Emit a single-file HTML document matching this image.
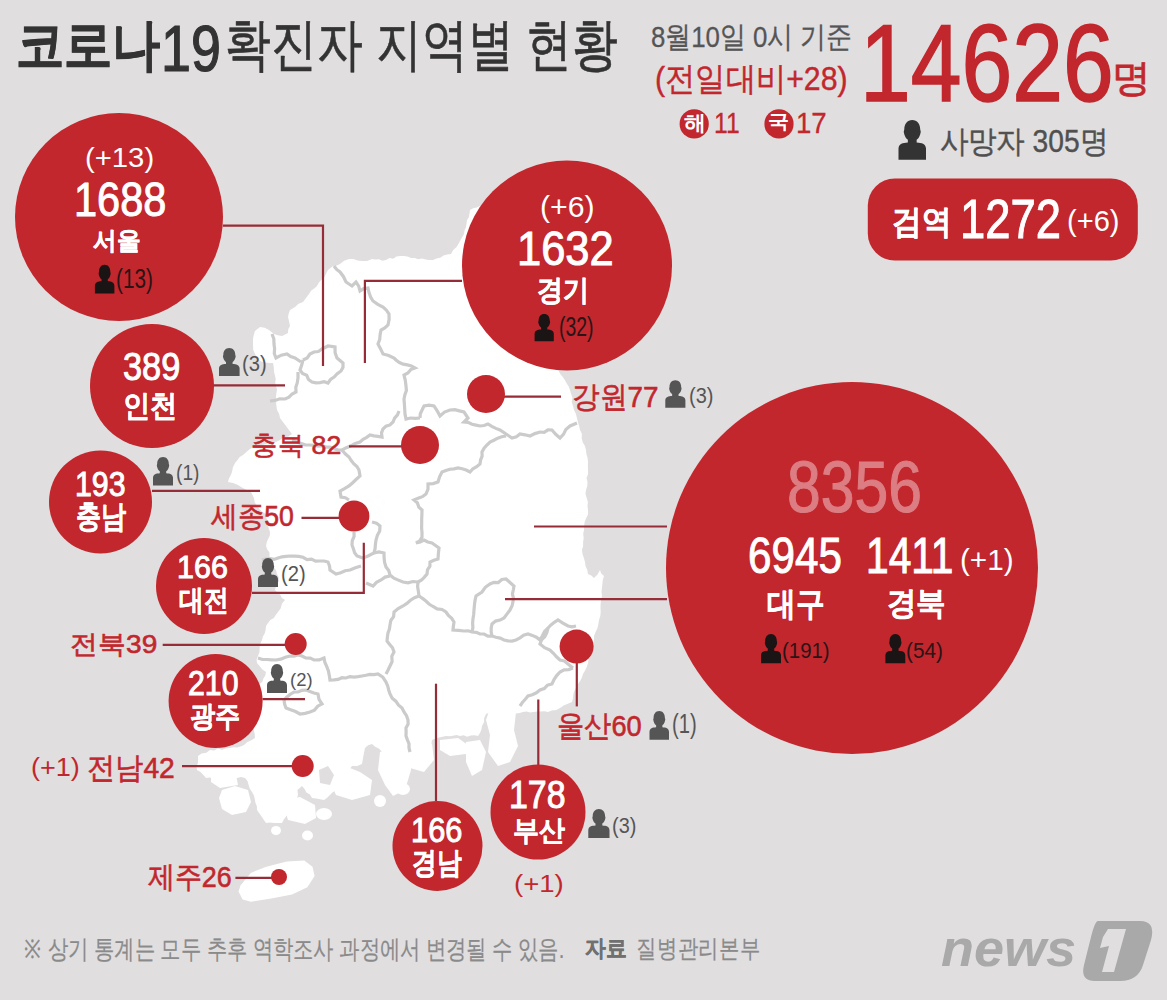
<!DOCTYPE html>
<html><head><meta charset="utf-8"><style>
html,body{margin:0;padding:0}
body{width:1167px;height:1000px;background:#e0dedf;position:relative;overflow:hidden;font-family:"Liberation Sans",sans-serif}
svg{position:absolute;left:0;top:0}
.t{position:absolute;white-space:nowrap;line-height:1;transform-origin:0 0}
.t i{display:inline-block;width:1em;font-style:normal;text-align:center}
</style></head><body>
<svg width="1167" height="1000" viewBox="0 0 1167 1000"><path d="M253,339 L253.7,334.9 L255.0,331.0 L260.0,327.0 L264.7,327.8 L269.0,330.0 L274.0,334.0 L277.9,335.3 L282.0,336.0 L288.0,333.0 L288.2,329.3 L290.0,326.0 L289.1,321.5 L288.0,317.0 L288.7,313.4 L290.0,310.0 L295.0,307.0 L298.5,303.8 L303.0,302.0 L306.0,298.0 L309.0,294.0 L311.0,290.7 L314.2,288.6 L317.0,286.0 L318.7,282.8 L321.1,280.1 L324.0,278.0 L325.9,273.9 L328.0,270.0 L333.0,266.0 L336.7,265.6 L340.0,264.0 L344.1,260.8 L349.0,259.0 L353.4,259.1 L357.6,260.6 L362.0,261.0 L367.2,260.9 L372.0,259.0 L375.5,259.4 L379.0,259.3 L382.4,260.7 L386.0,260.0 L389.3,258.1 L393.2,258.7 L396.4,256.6 L400.0,256.0 L403.8,256.0 L407.5,256.6 L411.0,258.0 L414.7,258.0 L418.3,259.3 L422.1,258.4 L425.7,259.5 L429.3,259.9 L433.0,260.0 L436.5,258.6 L440.2,257.7 L443.5,255.6 L447.1,254.4 L451.0,254.0 L453.2,250.0 L456.6,246.9 L459.0,243.0 L461.4,238.4 L464.0,234.0 L464.5,230.5 L465.9,227.2 L466.5,223.7 L467.0,220.2 L468.9,217.0 L469.5,213.5 L470.0,210.0 L473.1,208.2 L476.7,207.5 L480.0,206.0 L483.6,205.4 L486.8,203.8 L489.8,201.6 L493.7,201.6 L496.4,198.6 L499.9,197.8 L503.5,197.1 L506.4,194.7 L510.0,194.0 L513.0,191.8 L516.8,191.6 L520.0,190.0 L522.8,192.3 L526.0,193.8 L528.7,196.1 L532.3,197.0 L535.0,199.4 L538.1,201.1 L541.1,202.9 L544.3,204.5 L546.9,206.9 L549.8,208.9 L553.4,210.0 L556.2,212.1 L559.8,212.9 L562.2,215.8 L565.3,217.5 L568.0,219.9 L571.2,221.5 L574.8,222.4 L577.7,224.3 L580.4,226.7 L584.1,227.4 L586.7,229.9 L590.0,231.2 L593.1,233.0 L596.2,234.7 L598.5,237.7 L602.2,238.5 L605.1,240.5 L608.0,242.5 L610.5,245.2 L614.4,245.6 L617.0,248.1 L620.0,250.0 L619.0,253.5 L617.5,256.8 L616.8,260.3 L615.8,263.7 L616.1,267.5 L614.9,270.9 L614.2,274.4 L612.3,277.6 L611.3,281.1 L612.0,285.0 L611.1,288.4 L610.1,291.9 L609.2,295.3 L607.9,298.7 L606.8,302.1 L606.5,305.8 L606.2,309.4 L604.5,312.6 L603.7,316.2 L602.5,319.5 L600.9,322.8 L600.5,326.4 L600.0,330.0 L597.2,332.4 L594.3,334.6 L591.5,336.9 L589.6,340.2 L585.7,341.3 L583.1,343.8 L580.3,346.1 L577.6,348.5 L575.4,351.5 L572.6,353.9 L570.3,356.7 L566.8,358.3 L564.8,361.5 L562.1,363.9 L559.1,366.1 L556.0,368.0 L558.6,370.8 L560.3,374.1 L562.8,376.9 L564.8,380.0 L566.6,383.3 L568.7,386.4 L570.0,390.0 L571.1,393.9 L572.5,397.8 L571.7,402.1 L573.0,406.0 L574.0,410.0 L575.9,413.8 L576.9,417.9 L577.9,421.9 L579.1,425.9 L580.0,430.0 L581.9,433.8 L581.7,438.2 L582.7,442.3 L584.9,446.0 L586.0,450.0 L586.4,454.0 L587.6,457.9 L588.0,461.9 L587.9,466.0 L588.0,470.0 L588.1,474.0 L586.5,477.9 L587.5,482.1 L587.3,486.1 L586.0,490.0 L585.5,494.1 L586.7,498.0 L587.9,501.9 L587.5,506.0 L588.0,510.0 L588.1,514.2 L586.3,518.0 L584.7,521.8 L584.1,525.9 L584.0,530.0 L583.2,534.0 L583.7,538.0 L583.1,542.0 L583.1,546.1 L582.0,550.0 L582.5,554.1 L583.9,558.0 L585.0,562.0 L585.5,566.1 L587.3,569.9 L588.0,574.0 L591.3,575.5 L594.0,578.0 L597.5,574.4 L600.0,570.0 L601.2,573.5 L604.0,576.0 L602.8,579.9 L602.4,583.9 L601.9,587.9 L601.5,591.9 L602.0,596.1 L601.0,600.0 L600.6,604.0 L600.5,608.0 L600.7,612.1 L600.3,616.1 L599.0,620.0 L598.4,624.1 L597.5,628.1 L595.6,631.9 L594.1,635.8 L594.0,640.0 L593.4,644.0 L591.6,647.8 L590.8,651.8 L591.0,656.0 L588.6,659.2 L588.0,663.3 L586.7,667.0 L585.1,670.6 L583.0,674.0 L581.8,677.8 L580.0,681.3 L577.5,684.4 L576.0,688.0 L574.2,691.3 L573.3,694.8 L573.0,698.5 L572.0,702.0 L567.9,703.7 L563.7,705.5 L560.0,708.0 L556.3,710.1 L551.9,710.4 L548.0,712.0 L544.4,711.2 L540.9,711.4 L537.3,711.5 L533.7,712.0 L530.1,712.6 L526.6,711.4 L523.0,712.0 L518.8,713.3 L514.4,713.4 L510.0,714.1 L506.0,716.0 L502.6,714.9 L499.3,713.5 L496.0,712.0 L490.8,712.1 L486.0,714.0 L484.2,717.9 L484.0,722.2 L482.0,726.0 L481.4,729.6 L480.0,732.9 L478.0,736.0 L474.4,735.2 L470.8,735.4 L467.2,736.7 L463.6,735.3 L460.0,736.0 L456.5,735.0 L453.0,735.7 L449.5,736.3 L446.0,736.0 L441.5,736.9 L437.0,738.0 L432.0,740.0 L431.5,743.6 L430.6,747.0 L427.6,749.7 L427.1,753.2 L426.1,756.6 L425.0,760.0 L421.1,761.2 L418.1,764.1 L414.1,765.4 L411.0,768.0 L409.2,771.2 L409.1,775.0 L407.9,778.4 L406.6,781.7 L405.0,785.0 L400.7,785.9 L396.3,785.5 L392.0,786.0 L390.0,782.2 L388.8,778.1 L386.8,774.3 L386.0,770.0 L386.0,766.2 L384.1,762.9 L383.5,759.2 L383.0,755.6 L382.0,752.0 L379.2,748.7 L375.2,746.8 L372.0,744.0 L368.1,745.3 L365.0,748.0 L364.2,752.0 L363.4,756.0 L362.7,760.0 L362.0,764.0 L357.2,765.9 L352.0,766.0 L349.8,768.7 L347.8,771.8 L345.0,774.0 L344.1,777.7 L340.9,780.1 L340.2,783.9 L337.8,786.8 L336.0,790.0 L332.7,792.2 L329.9,794.9 L327.2,797.8 L324.0,800.0 L320.0,799.3 L316.0,798.6 L312.0,798.0 L309.9,794.6 L306.4,792.5 L304.6,788.9 L302.0,786.0 L299.3,788.4 L296.2,790.4 L293.0,792.0 L291.9,795.5 L291.8,799.2 L291.1,802.8 L290.1,806.3 L290.0,810.0 L287.3,812.8 L286.1,816.6 L283.8,819.6 L282.0,823.0 L278.0,823.0 L274.0,823.0 L270.0,822.6 L266.0,823.0 L263.7,819.8 L261.6,816.5 L259.2,813.3 L257.0,810.0 L256.9,806.2 L255.4,802.7 L254.7,799.0 L253.9,795.4 L252.0,792.0 L249.8,788.7 L248.6,784.9 L247.5,781.1 L245.0,778.0 L240.8,777.1 L236.5,778.2 L232.2,778.0 L228.0,777.0 L224.3,777.3 L220.7,778.2 L217.0,778.0 L213.4,778.5 L209.7,777.5 L206.0,778.0 L203.4,774.9 L200.5,772.1 L197.0,770.0 L196.6,766.5 L197.9,763.0 L198.1,759.5 L198.0,756.0 L201.7,753.4 L206.3,752.7 L210.0,750.0 L214.1,750.5 L217.9,748.6 L222.1,749.7 L226.0,748.2 L230.0,748.0 L233.5,747.2 L237.2,747.5 L240.6,746.4 L244.0,745.0 L247.3,742.1 L251.3,740.2 L255.0,738.0 L254.7,734.3 L254.0,730.7 L253.4,727.1 L253.3,723.4 L253.8,719.6 L253.0,716.0 L252.4,712.2 L253.8,708.7 L253.9,705.0 L253.4,701.2 L254.3,697.6 L255.0,694.0 L256.8,691.0 L258.2,687.7 L258.9,684.2 L262.2,681.9 L263.4,678.5 L265.3,675.6 L266.0,672.0 L262.4,669.6 L259.7,666.3 L257.0,663.0 L256.6,659.4 L258.0,656.0 L259.5,652.1 L259.6,647.9 L260.3,643.8 L262.0,640.0 L262.9,636.5 L264.8,633.2 L265.6,629.7 L266.0,626.0 L268.0,622.9 L270.3,619.9 L273.8,618.1 L275.7,614.9 L278.0,612.0 L280.7,608.2 L282.0,603.6 L285.0,600.0 L281.9,598.1 L280.3,594.7 L277.4,592.6 L275.0,590.0 L276.2,585.2 L279.0,581.0 L278.6,577.1 L276.9,573.7 L276.0,570.0 L273.4,566.9 L273.0,563.0 L272.3,559.3 L269.4,556.5 L269.5,552.5 L267.3,549.4 L266.0,546.0 L266.7,542.4 L268.1,539.0 L269.8,535.7 L270.0,532.0 L268.7,528.5 L267.7,525.0 L267.7,521.2 L266.3,517.7 L266.0,514.0 L262.5,511.9 L259.6,509.2 L257.0,506.0 L254.7,502.3 L254.0,498.0 L251.0,492.0 L247.5,490.8 L244.3,488.8 L241.1,487.1 L238.0,485.0 L233.1,483.0 L228.0,482.0 L228.9,478.5 L230.7,475.3 L232.0,472.0 L232.9,467.3 L235.0,463.0 L237.5,460.1 L239.7,457.0 L243.0,455.0 L246.4,451.9 L249.8,448.9 L254.0,447.0 L258.1,446.5 L262.0,445.1 L266.0,444.0 L269.3,442.4 L273.0,442.0 L276.7,441.8 L280.0,440.0 L283.6,437.3 L288.3,436.6 L292.0,434.0 L288.9,430.1 L286.0,426.0 L283.0,422.0 L280.0,418.0 L279.1,413.8 L277.0,410.0 L276.3,405.0 L276.0,400.0 L276.0,396.5 L276.4,393.0 L277.0,389.5 L276.0,386.0 L275.2,382.5 L275.7,378.9 L274.9,375.4 L274.0,372.0 L273.8,367.5 L273.0,363.0 L269.3,362.9 L265.6,362.6 L262.0,362.0 L259.0,359.9 L256.8,357.2 L255.0,354.0 L253.2,349.7 L253.0,345.0 L253.0,339.0 Z" fill="#fff"/><path d="M222,790 L235,786 L248,790 L251,802 L246,812 L232,815 L222,809 L219,798 Z" fill="#fff"/><path d="M260,776 L278,770 L296,776 L298,795 L292,812 L278,821 L266,815 L260,795 Z" fill="#fff"/><path d="M282,800 L300,797 L315,805 L316,818 L305,824 L288,820 Z" fill="#fff"/><path d="M380,752 L395,748 L408,754 L411,770 L405,790 L393,796 L385,785 L378,770 Z" fill="#fff"/><path d="M332,768 L345,766 L360,772 L372,780 L370,795 L352,800 L336,795 L330,782 Z" fill="#fff"/><path d="M211,773 L236,775 L238,785 L220,788 L211,782 Z" fill="#fff"/><path d="M492,702 L508,700 L516,712 L514,730 L518,746 L510,762 L498,766 L488,752 L490,735 L486,720 Z" fill="#fff"/><path d="M440,740 L458,738 L468,745 L466,754 L450,756 L440,750 Z" fill="#fff"/><path d="M466,742 L480,740 L486,752 L482,770 L472,776 L466,762 Z" fill="#fff"/><path d="M405,740 L420,738 L432,744 L434,760 L424,772 L410,768 L404,754 Z" fill="#fff"/><ellipse cx="276" cy="830.5" rx="5" ry="4.5" fill="#fff"/><ellipse cx="307.5" cy="835.5" rx="5.5" ry="5" fill="#fff"/><ellipse cx="324" cy="814" rx="8" ry="6" fill="#fff"/><ellipse cx="380" cy="801" rx="6" ry="6" fill="#fff"/><ellipse cx="403" cy="789" rx="7" ry="6" fill="#fff"/><path d="M319,770 L328,766 L334,775 L330,785 L320,783 Z" fill="#e0dedf"/><path d="M238.5,891.4 L240.6,885.2 L250.8,872.9 L266.3,866.7 L286.8,861.6 L304.3,860.6 L312.5,866.7 L314.6,876 L307.4,887.3 L292,894.5 L271.4,898.6 L250.8,901.7 L242.6,899.6 Z" fill="#fff"/><polyline points="334,266 336.6,269.4 340.0,272.0 343.5,276.7 346.0,282.0 352.0,286.0 356.0,282.0 358.7,286.2 360.0,291.0 363.7,288.6 368.0,288.0 369.0,292.6 370.6,297.0 373.0,301.0 377.8,304.3 383.0,307.0 386.4,310.2 389.0,314.0 389.1,319.6 388.0,325.0 384.8,327.9 381.0,330.0 380.1,334.7 379.7,339.5 378.0,344.0 380.6,348.9 383.0,354.0 388.7,355.5 394.0,358.0 396.0,360.0 399.4,362.5 403.2,364.2 407.4,364.9 411.4,365.9 415.0,368.0 410.8,369.5 407.9,373.0 404.0,375.0 405.3,380.4 406.0,386.0 406.4,390.5 404.9,394.7 404.0,399.0 404.4,404.0 404.7,409.0 405.0,414.0 406.0,419.0 410.6,418.0 415.3,418.3 420.0,418.0" fill="none" stroke="#cbcbcb" stroke-width="3.2"/><polyline points="420,418 420.3,413.7 422.2,409.8 424.0,406.0 429.0,405.1 434.0,406.0 437.2,410.9 440.0,416.0 444.5,412.1 450.0,410.0 454.8,409.6 459.4,410.9 464.0,412.0 468.0,418.0 464.0,422.0 468.1,422.4 472.0,424.2 476.0,425.1 480.0,426.0 484.1,425.5 488.0,424.0 491.8,426.3 495.8,428.4 500.0,430.0 506.0,434.0 512.0,438.0 516.4,436.7 520.0,434.0 525.0,434.8 530.0,436.0 534.9,433.6 540.0,432.0 544.2,432.4 547.9,429.9 552.0,430.0 555.7,434.3 560.0,438.0 563.6,434.2 565.9,429.4 570.0,426.0 577.0,423.0" fill="none" stroke="#cbcbcb" stroke-width="3.2"/><polyline points="506,436 501.7,436.8 497.7,438.2 493.9,440.2 490.0,442.0 486.9,445.0 484.1,448.2 482.0,452.0 482.1,456.1 480.6,460.0 480.0,464.0 476.7,466.7 472.9,468.8 470.0,472.0 466.2,470.0 462.2,468.7 458.0,468.0 454.0,468.8 449.8,469.2 445.9,470.6 442.0,472.0 439.6,476.8 438.0,482.0 433.1,483.6 428.0,484.0 428.0,489.2 426.0,494.0 422.4,496.7 418.1,498.3 414.0,500.0 417.3,502.8 418.8,507.1 422.0,510.0 421.9,514.5 421.7,519.0 421.7,523.5 421.6,528.0 422.0,532.5 422.0,537.0 419.8,540.8 416.0,543.0 420.2,542.1 424.0,540.0 427.8,542.0 432.0,543.0 435.5,545.5 439.0,548.0 438.4,553.5 438.0,559.0 433.9,560.2 430.0,562.0 429.9,566.2 427.5,569.9 427.0,574.0 424.4,577.1 421.6,580.0 418.0,582.0" fill="none" stroke="#cbcbcb" stroke-width="3.2"/><polyline points="399,411 397.5,414.9 394.6,418.1 393.0,422.0 390.0,424.9 386.0,426.2 383.0,429.0 381.5,432.9 382.0,437.0 378.0,436.3 374.0,435.9 370.0,435.0 366.7,437.4 363.1,439.3 360.0,442.0 355.3,443.5 350.9,445.8 346.4,447.7 342.0,450.0 337.8,449.9 333.8,448.8 330.0,447.0 325.9,447.1 322.1,445.7 318.0,446.2 314.0,445.3 310.0,445.0 305.2,444.8 300.7,443.4 296.4,441.7 292.0,440.0" fill="none" stroke="#cbcbcb" stroke-width="3.2"/><polyline points="342,450 345.2,453.8 349.0,457.0 351.2,460.5 353.7,463.7 356.9,466.5 359.0,470.0 360.0,476.0 356.3,479.3 352.7,482.7 349.0,486.0 344.5,488.6 340.0,491.0 341.0,497.0 345.3,497.7 349.0,500.0" fill="none" stroke="#cbcbcb" stroke-width="3.2"/><polyline points="303,360 307.2,358.0 309.9,354.1 314.0,352.0 318.4,351.5 322.0,349.0 328.0,346.0 335.0,347.0 335.1,352.7 337.0,358.0 343.0,363.0 343.0,367.3 341.0,371.0 337.0,374.0 334.1,377.1 330.5,379.5 328.0,383.0 324.1,381.7 320.0,382.6 316.0,382.8 312.0,382.0 308.5,379.5 306.7,375.3 302.5,373.5 300.0,370.0 301.7,365.1 303.0,360.0" fill="none" stroke="#cbcbcb" stroke-width="3.2"/><polyline points="272,334 273.8,338.8 274.0,344.0 274.6,348.7 274.3,353.5 276.0,358.0 281.2,355.2 287.0,354.0 290.7,356.6 295.0,358.0 301.0,362.0" fill="none" stroke="#cbcbcb" stroke-width="3.2"/><polyline points="298,372 298.0,378.0 297.3,382.7 295.8,387.2 296.0,392.0 292.1,394.0 289.0,397.2 285.0,399.0 279.9,398.8 275.0,400.4 270.0,401.0" fill="none" stroke="#cbcbcb" stroke-width="3.2"/><polyline points="372,522 376.5,523.1 380.0,526.0 379.7,531.0 377.4,535.3 376.0,540.0 375.4,544.3 375.1,548.7 374.0,553.0 368.0,556.0 363.0,558.0 357.0,556.0 354.6,552.7 353.4,548.8 352.0,545.0 352.3,540.6 354.1,536.4 354.0,532.0" fill="none" stroke="#cbcbcb" stroke-width="3.2"/><polyline points="374,553 379.0,551.9 384.0,553.0 384.1,557.7 384.6,562.4 386.0,567.0 388.7,570.6 390.0,575.0 393.9,578.2 398.4,580.1 403.0,582.0 408.0,582.9 413.0,581.5 418.0,582.0" fill="none" stroke="#cbcbcb" stroke-width="3.2"/><polyline points="262,560 266.0,559.2 270.0,558.6 274.2,559.4 278.0,557.9 282.0,556.8 286.0,556.4 290.0,556.0 294.4,556.2 298.7,556.4 303.0,557.3 307.0,559.6 311.5,559.1 315.6,561.2 320.0,561.0 324.1,561.0 328.0,562.0 329.5,565.9 330.0,570.0 336.0,574.0 340.7,572.7 345.1,570.7 350.0,570.0 355.4,567.7 361.0,566.0" fill="none" stroke="#cbcbcb" stroke-width="3.2"/><polyline points="390,576 385.1,577.1 381.0,580.0 376.5,582.3 373.0,586.0 366.0,583.0" fill="none" stroke="#cbcbcb" stroke-width="3.2"/><polyline points="418,582 417.6,586.7 418.4,591.4 419.0,596.0 414.5,597.7 410.5,600.2 406.9,603.4 403.0,606.0 398.2,608.6 394.0,612.0 393.6,616.6 390.8,620.5 390.0,625.0 389.4,629.0 388.0,632.9 387.4,636.9 387.0,641.0 389.7,644.4 392.5,647.8 394.0,652.0 391.8,656.4 392.1,661.6 390.0,666.0 388.1,670.0 386.0,674.0" fill="none" stroke="#cbcbcb" stroke-width="3.2"/><polyline points="419,596 422.5,598.4 425.9,601.0 429.0,604.0 433.0,606.5 437.1,608.9 442.0,609.5 446.0,612.0 448.4,615.5 451.7,618.4 454.0,622.0 453.4,626.0 453.0,630.0 458.5,630.3 464.0,631.0 468.1,630.8 472.0,632.0 476.2,632.3 480.0,634.0 484.1,634.0 487.9,636.2 492.0,636.0 496.0,637.3 500.2,638.1 504.0,640.0 508.0,640.9 512.0,641.1 516.0,640.0 520.0,637.9 523.6,635.3 528.0,634.0 532.3,635.4 536.4,637.2 540.0,640.0 542.4,635.8 544.6,631.5 548.0,628.0 551.0,624.9 554.3,622.3 558.0,620.0 562.9,623.1 568.0,626.0 572.0,626.9 576.0,626.0" fill="none" stroke="#cbcbcb" stroke-width="3.2"/><polyline points="472,632 472.9,627.6 472.6,623.2 473.0,618.8 473.7,614.4 474.0,610.0 474.4,605.3 475.0,600.6 476.0,596.0 482.0,592.0 485.3,587.3 490.0,584.0 493.9,582.3 498.3,582.5 501.8,579.5 506.0,579.0 510.0,582.5 514.0,586.0 513.3,590.0 512.4,593.9 513.4,598.1 512.9,602.1 512.0,606.0 509.8,610.3 506.9,614.1 504.0,618.0 500.1,620.1 495.6,621.1 492.0,624.0 491.2,628.0 491.2,632.0 492.0,636.0" fill="none" stroke="#cbcbcb" stroke-width="3.2"/><polyline points="548,628 546.9,632.5 544.9,636.5 541.6,639.8 540.0,644.0 544.6,647.7 550.0,650.0 553.4,653.3 556.5,656.8 560.0,660.0 564.5,661.0 568.0,664.0 573.0,668.0" fill="none" stroke="#cbcbcb" stroke-width="3.2"/><polyline points="573,668 568.7,669.6 564.1,669.8 560.0,672.0 556.7,675.6 554.0,679.6 552.0,684.0 547.5,685.1 544.2,688.5 540.0,690.0 536.4,692.8 532.3,694.7 528.0,696.0 525.3,699.3 522.4,702.4 520.0,706.0" fill="none" stroke="#cbcbcb" stroke-width="3.2"/><polyline points="258,658 262.4,659.5 266.9,659.5 271.5,659.8 276.0,660.0 280.8,659.2 285.3,657.2 290.0,656.0 294.0,656.1 298.0,655.0 302.0,656.0 305.8,657.9 310.2,658.1 314.0,660.0 319.2,659.9 324.0,658.0 324.9,662.5 326.8,666.7 328.4,671.0 329.3,675.5 330.0,680.0 334.0,679.8 338.1,679.4 341.9,677.7 346.0,678.0 349.9,676.6 354.0,677.1 358.0,676.7 362.0,676.0 366.0,675.3 369.9,674.4 374.0,674.7 378.0,674.0 382.8,677.2 386.0,682.0 387.7,685.9 388.7,690.0 390.0,694.0 392.2,698.2 395.8,701.2 398.4,705.0 402.0,708.0 404.0,712.0 406.5,715.7 408.0,720.0 408.1,724.1 406.0,727.9 406.1,731.9 406.0,736.0 407.4,739.9 409.0,743.7 409.0,748.0 410.0,752.0" fill="none" stroke="#cbcbcb" stroke-width="3.2"/><polyline points="284,700 284.6,704.1 286.0,708.0 290.7,709.8 295.5,711.5 300.0,714.0 305.1,713.4 310.0,712.0 314.5,710.1 317.7,706.2 322.0,704.0 319.0,699.4 318.0,694.0 313.9,693.0 309.9,691.5 306.0,690.0 301.9,690.3 298.1,692.0 294.0,692.0 290.3,694.2 287.0,696.9 284.0,700.0" fill="none" stroke="#cbcbcb" stroke-width="3.2"/><polyline points="223,225.7 323,225.7 323,366" fill="none" stroke="#962c37" stroke-width="2.2"/><polyline points="462,280.8 364.9,280.8 364.9,363" fill="none" stroke="#962c37" stroke-width="2.2"/><polyline points="213,385.3 285,385.3" fill="none" stroke="#962c37" stroke-width="2.2"/><polyline points="486,396.7 561,396.7" fill="none" stroke="#962c37" stroke-width="2.2"/><polyline points="349,446.3 420,446.3" fill="none" stroke="#962c37" stroke-width="2.2"/><polyline points="152,490.9 260,490.9" fill="none" stroke="#962c37" stroke-width="2.2"/><polyline points="301.5,517.8 354,517.8" fill="none" stroke="#962c37" stroke-width="2.2"/><polyline points="252,592.9 363.8,592.9 363.8,542.7" fill="none" stroke="#962c37" stroke-width="2.2"/><polyline points="162.7,644.8 295.7,644.8" fill="none" stroke="#962c37" stroke-width="2.2"/><polyline points="262.5,699.2 305,699.2" fill="none" stroke="#962c37" stroke-width="2.2"/><polyline points="182,766.2 302.7,766.2" fill="none" stroke="#962c37" stroke-width="2.2"/><polyline points="235.4,877.8 279,877.8" fill="none" stroke="#962c37" stroke-width="2.2"/><polyline points="436,683.7 436,801" fill="none" stroke="#962c37" stroke-width="2.2"/><polyline points="538.3,699.5 538.3,765" fill="none" stroke="#962c37" stroke-width="2.2"/><polyline points="576.8,646 576.8,706.4" fill="none" stroke="#962c37" stroke-width="2.2"/><polyline points="534,526.5 667,526.5" fill="none" stroke="#962c37" stroke-width="2.2"/><polyline points="505,599.2 667,599.2" fill="none" stroke="#962c37" stroke-width="2.2"/><circle cx="119" cy="217" r="104" fill="#c1272d"/><circle cx="567" cy="265.5" r="105" fill="#c1272d"/><circle cx="152" cy="386" r="62" fill="#c1272d"/><circle cx="100.5" cy="502" r="51.5" fill="#c1272d"/><circle cx="204" cy="586" r="48" fill="#c1272d"/><circle cx="215.6" cy="701" r="47" fill="#c1272d"/><circle cx="437.5" cy="846" r="45" fill="#c1272d"/><circle cx="538" cy="812" r="47.5" fill="#c1272d"/><circle cx="852" cy="568" r="186" fill="#c1272d"/><circle cx="486" cy="394" r="19" fill="#c1272d"/><circle cx="420" cy="445" r="19" fill="#c1272d"/><circle cx="354" cy="516" r="15.4" fill="#c1272d"/><circle cx="295.7" cy="644" r="11" fill="#c1272d"/><circle cx="302.7" cy="766" r="11" fill="#c1272d"/><circle cx="576.6" cy="646.6" r="17" fill="#c1272d"/><circle cx="279" cy="877" r="8" fill="#c1272d"/><rect x="867.8" y="178.5" width="270" height="82" rx="27" fill="#c1272d"/><circle cx="694.2" cy="123.9" r="14.6" fill="#c1272d"/><circle cx="779" cy="123.9" r="14.6" fill="#c1272d"/><path d="M104.65,264.80C108.16,264.80 110.31,267.68 110.31,271.71L110.70,273.44L110.31,275.17C109.72,277.47 108.55,278.62 107.77,279.20L107.77,281.22C111.48,281.50 114.01,282.08 114.40,285.54L114.40,293.60L94.90,293.60L94.90,285.54C95.29,282.08 97.83,281.50 101.53,281.22L101.53,279.20C100.75,278.62 99.58,277.47 99.00,275.17L98.61,273.44L99.00,271.71C99.00,267.68 101.14,264.80 104.65,264.80Z" fill="#1b1414"/><path d="M544.20,314.00C547.66,314.00 549.77,316.72 549.77,320.53L550.15,322.16L549.77,323.79C549.19,325.97 548.04,327.06 547.27,327.60L547.27,329.50C550.92,329.78 553.42,330.32 553.80,333.58L553.80,341.20L534.60,341.20L534.60,333.58C534.98,330.32 537.48,329.78 541.13,329.50L541.13,327.60C540.36,327.06 539.21,325.97 538.63,323.79L538.25,322.16L538.63,320.53C538.63,316.72 540.74,314.00 544.20,314.00Z" fill="#1b1414"/><path d="M771.00,634.00C774.60,634.00 776.80,636.92 776.80,641.01L777.20,642.76L776.80,644.51C776.20,646.85 775.00,648.02 774.20,648.60L774.20,650.64C778.00,650.94 780.60,651.52 781.00,655.02L781.00,663.20L761.00,663.20L761.00,655.02C761.40,651.52 764.00,650.94 767.80,650.64L767.80,648.60C767.00,648.02 765.80,646.85 765.20,644.51L764.80,642.76L765.20,641.01C765.20,636.92 767.40,634.00 771.00,634.00Z" fill="#1b1414"/><path d="M895.35,634.00C898.93,634.00 901.12,636.92 901.12,641.01L901.52,642.76L901.12,644.51C900.52,646.85 899.33,648.02 898.53,648.60L898.53,650.64C902.31,650.94 904.90,651.52 905.30,655.02L905.30,663.20L885.40,663.20L885.40,655.02C885.80,651.52 888.38,650.94 892.17,650.64L892.17,648.60C891.37,648.02 890.18,646.85 889.58,644.51L889.18,642.76L889.58,641.01C889.58,636.92 891.77,634.00 895.35,634.00Z" fill="#1b1414"/><path d="M912.25,119.90C917.20,119.90 920.23,123.88 920.23,129.45L920.77,131.84L920.23,134.23C919.40,137.41 917.75,139.00 916.65,139.80L916.65,142.59C921.88,142.98 925.45,143.78 926.00,148.56L926.00,159.70L898.50,159.70L898.50,148.56C899.05,143.78 902.62,142.98 907.85,142.59L907.85,139.80C906.75,139.00 905.10,137.41 904.27,134.23L903.73,131.84L904.27,129.45C904.27,123.88 907.30,119.90 912.25,119.90Z" fill="#333"/><path d="M229.30,348.00C233.01,348.00 235.27,350.80 235.27,354.72L235.69,356.40L235.27,358.08C234.66,360.32 233.42,361.44 232.60,362.00L232.60,363.96C236.51,364.24 239.19,364.80 239.60,368.16L239.60,376.00L219.00,376.00L219.00,368.16C219.41,364.80 222.09,364.24 226.00,363.96L226.00,362.00C225.18,361.44 223.94,360.32 223.33,358.08L222.91,356.40L223.33,354.72C223.33,350.80 225.59,348.00 229.30,348.00Z" fill="#555"/><path d="M163.00,457.00C166.60,457.00 168.80,459.86 168.80,463.86L169.20,465.58L168.80,467.30C168.20,469.58 167.00,470.73 166.20,471.30L166.20,473.30C170.00,473.59 172.60,474.16 173.00,477.59L173.00,485.60L153.00,485.60L153.00,477.59C153.40,474.16 156.00,473.59 159.80,473.30L159.80,471.30C159.00,470.73 157.80,469.58 157.20,467.30L156.80,465.58L157.20,463.86C157.20,459.86 159.40,457.00 163.00,457.00Z" fill="#555"/><path d="M268.00,558.00C271.60,558.00 273.80,560.90 273.80,564.96L274.20,566.70L273.80,568.44C273.20,570.76 272.00,571.92 271.20,572.50L271.20,574.53C275.00,574.82 277.60,575.40 278.00,578.88L278.00,587.00L258.00,587.00L258.00,578.88C258.40,575.40 261.00,574.82 264.80,574.53L264.80,572.50C264.00,571.92 262.80,570.76 262.20,568.44L261.80,566.70L262.20,564.96C262.20,560.90 264.40,558.00 268.00,558.00Z" fill="#555"/><path d="M277.00,664.00C280.60,664.00 282.80,666.90 282.80,670.96L283.20,672.70L282.80,674.44C282.20,676.76 281.00,677.92 280.20,678.50L280.20,680.53C284.00,680.82 286.60,681.40 287.00,684.88L287.00,693.00L267.00,693.00L267.00,684.88C267.40,681.40 270.00,680.82 273.80,680.53L273.80,678.50C273.00,677.92 271.80,676.76 271.20,674.44L270.80,672.70L271.20,670.96C271.20,666.90 273.40,664.00 277.00,664.00Z" fill="#555"/><path d="M675.35,380.30C678.97,380.30 681.18,383.04 681.18,386.88L681.58,388.52L681.18,390.16C680.58,392.36 679.37,393.45 678.57,394.00L678.57,395.92C682.38,396.19 685.00,396.74 685.40,400.03L685.40,407.70L665.30,407.70L665.30,400.03C665.70,396.74 668.31,396.19 672.13,395.92L672.13,394.00C671.33,393.45 670.12,392.36 669.52,390.16L669.12,388.52L669.52,386.88C669.52,383.04 671.73,380.30 675.35,380.30Z" fill="#555"/><path d="M659.25,711.00C662.76,711.00 664.90,713.87 664.90,717.89L665.29,719.61L664.90,721.33C664.32,723.63 663.15,724.78 662.37,725.35L662.37,727.36C666.08,727.65 668.61,728.22 669.00,731.66L669.00,739.70L649.50,739.70L649.50,731.66C649.89,728.22 652.42,727.65 656.13,727.36L656.13,725.35C655.35,724.78 654.18,723.63 653.60,721.33L653.21,719.61L653.60,717.89C653.60,713.87 655.74,711.00 659.25,711.00Z" fill="#555"/><path d="M598.90,809.00C602.72,809.00 605.05,811.90 605.05,815.96L605.47,817.70L605.05,819.44C604.41,821.76 603.14,822.92 602.29,823.50L602.29,825.53C606.32,825.82 609.08,826.40 609.50,829.88L609.50,838.00L588.30,838.00L588.30,829.88C588.72,826.40 591.48,825.82 595.51,825.53L595.51,823.50C594.66,822.92 593.39,821.76 592.75,819.44L592.33,817.70L592.75,815.96C592.75,811.90 595.08,809.00 598.90,809.00Z" fill="#555"/><g fill="#a9a9a9"><text x="941" y="966" font-family="Liberation Sans" font-style="italic" font-weight="bold" font-size="52" textLength="135" lengthAdjust="spacingAndGlyphs">news</text><path d="M1098,921 L1140,921 Q1156,921 1151,940 L1143,965 Q1138,981 1120,981 L1095,981 Q1080,981 1084,965 L1091,937 Q1095,921 1098,921 Z"/></g><path d="M1108,929 L1126,929 L1114,972 L1102,972 L1109,946 L1100,948 L1103,937 Z" fill="#e0dedf"/></svg>
<div class="t" style="left:15.7px;top:18.0px;font-size:55.71px;color:#333333;font-weight:bold;transform:scaleX(0.8602);-webkit-text-stroke:0.6px #333333"><i>코</i><i>로</i><i>나</i></div><div class="t" style="left:161.0px;top:16.0px;font-size:65.03px;color:#333333;font-weight:normal;transform:scaleX(0.8279);-webkit-text-stroke:1.2px #333333">19</div><div class="t" style="left:225.0px;top:16.0px;font-size:57.1px;color:#333333;font-weight:normal;transform:scaleX(0.8048);-webkit-text-stroke:0.6px #333333"><i>확</i><i>진</i><i>자</i> <i>지</i><i>역</i><i>별</i> <i>현</i><i>황</i></div><div class="t" style="left:651.3px;top:21.5px;font-size:29.9px;color:#555555;font-weight:normal;transform:scaleX(0.8644);-webkit-text-stroke:0.3px #555555">8<i>월</i>10<i>일</i> 0<i>시</i> <i>기</i><i>준</i></div><div class="t" style="left:655.0px;top:63.0px;font-size:32.97px;color:#c1272d;font-weight:normal;transform:scaleX(0.918);-webkit-text-stroke:0.4px #c1272d">(<i>전</i><i>일</i><i>대</i><i>비</i>+28)</div><div class="t" style="left:714.3px;top:108.0px;font-size:29.66px;color:#c1272d;font-weight:normal;transform:scaleX(0.8354);-webkit-text-stroke:0.3px #c1272d">11</div><div class="t" style="left:796.4px;top:108.0px;font-size:29.66px;color:#c1272d;font-weight:normal;transform:scaleX(0.9321);-webkit-text-stroke:0.3px #c1272d">17</div><div class="t" style="left:684.3px;top:113.0px;font-size:20.51px;color:#ffffff;font-weight:bold;transform:scaleX(1.0511);-webkit-text-stroke:0px #ffffff"><i>해</i></div><div class="t" style="left:768.0px;top:112.0px;font-size:19.43px;color:#ffffff;font-weight:bold;transform:scaleX(1.1029);-webkit-text-stroke:0px #ffffff"><i>국</i></div><div class="t" style="left:860.0px;top:9.0px;font-size:109.78px;color:#c1272d;font-weight:normal;transform:scaleX(0.831);-webkit-text-stroke:1.6px #c1272d">14626</div><div class="t" style="left:1112.4px;top:59.3px;font-size:38.08px;color:#c1272d;font-weight:normal;transform:scaleX(1.0208);-webkit-text-stroke:0.8px #c1272d"><i>명</i></div><div class="t" style="left:940.0px;top:125.7px;font-size:30.51px;color:#505050;font-weight:normal;transform:scaleX(0.9252);-webkit-text-stroke:0.4px #505050"><i>사</i><i>망</i><i>자</i> 305<i>명</i></div><div class="t" style="left:892.0px;top:204.6px;font-size:33.37px;color:#ffffff;font-weight:bold;transform:scaleX(0.8962);-webkit-text-stroke:0.3px #ffffff"><i>검</i><i>역</i></div><div class="t" style="left:959.6px;top:192.3px;font-size:55.15px;color:#ffffff;font-weight:normal;transform:scaleX(0.8234);-webkit-text-stroke:1.0px #ffffff">1272</div><div class="t" style="left:1066.8px;top:207.0px;font-size:29.27px;color:#ffffff;font-weight:normal;transform:scaleX(0.9944);-webkit-text-stroke:0px #ffffff">(+6)</div><div class="t" style="left:85.2px;top:144.2px;font-size:27.22px;color:#ffffff;font-weight:normal;transform:scaleX(1.0753);-webkit-text-stroke:0px #ffffff">(+13)</div><div class="t" style="left:73.8px;top:175.4px;font-size:48.69px;color:#ffffff;font-weight:normal;transform:scaleX(0.853);-webkit-text-stroke:1.0px #ffffff">1688</div><div class="t" style="left:92.8px;top:228.4px;font-size:25.35px;color:#ffffff;font-weight:bold;transform:scaleX(0.9456);-webkit-text-stroke:0.4px #ffffff"><i>서</i><i>울</i></div><div class="t" style="left:115.8px;top:265.0px;font-size:27.91px;color:#2a1416;font-weight:normal;transform:scaleX(0.7438);-webkit-text-stroke:0px #2a1416">(13)</div><div class="t" style="left:540.1px;top:191.8px;font-size:29.76px;color:#ffffff;font-weight:normal;transform:scaleX(1.0168);-webkit-text-stroke:0px #ffffff">(+6)</div><div class="t" style="left:517.2px;top:223.8px;font-size:48.69px;color:#ffffff;font-weight:normal;transform:scaleX(0.8928);-webkit-text-stroke:1.0px #ffffff">1632</div><div class="t" style="left:536.8px;top:276.2px;font-size:29.04px;color:#ffffff;font-weight:bold;transform:scaleX(0.8985);-webkit-text-stroke:0.4px #ffffff"><i>경</i><i>기</i></div><div class="t" style="left:559.2px;top:313.4px;font-size:27.5px;color:#2a1416;font-weight:normal;transform:scaleX(0.7071);-webkit-text-stroke:0px #2a1416">(32)</div><div class="t" style="left:122.6px;top:348.0px;font-size:38.62px;color:#ffffff;font-weight:normal;transform:scaleX(0.8895);-webkit-text-stroke:1.0px #ffffff">389</div><div class="t" style="left:123.0px;top:391.0px;font-size:30.19px;color:#ffffff;font-weight:bold;transform:scaleX(0.9073);-webkit-text-stroke:0.4px #ffffff"><i>인</i><i>천</i></div><div class="t" style="left:242.0px;top:352.0px;font-size:22.91px;color:#555555;font-weight:normal;transform:scaleX(0.8798);-webkit-text-stroke:0px #555555">(3)</div><div class="t" style="left:75.0px;top:467.0px;font-size:34.77px;color:#ffffff;font-weight:normal;transform:scaleX(0.8698);-webkit-text-stroke:1.0px #ffffff">193</div><div class="t" style="left:76.0px;top:501.0px;font-size:31.15px;color:#ffffff;font-weight:bold;transform:scaleX(0.8092);-webkit-text-stroke:0.4px #ffffff"><i>충</i><i>남</i></div><div class="t" style="left:176.0px;top:461.0px;font-size:22.91px;color:#555555;font-weight:normal;transform:scaleX(0.8381);-webkit-text-stroke:0px #555555">(1)</div><div class="t" style="left:177.0px;top:552.0px;font-size:31.33px;color:#ffffff;font-weight:normal;transform:scaleX(0.9722);-webkit-text-stroke:1.0px #ffffff">166</div><div class="t" style="left:178.6px;top:586.0px;font-size:29.04px;color:#ffffff;font-weight:bold;transform:scaleX(0.8533);-webkit-text-stroke:0.4px #ffffff"><i>대</i><i>전</i></div><div class="t" style="left:281.0px;top:562.0px;font-size:22.91px;color:#555555;font-weight:normal;transform:scaleX(0.8798);-webkit-text-stroke:0px #555555">(2)</div><div class="t" style="left:188.0px;top:666.0px;font-size:34.77px;color:#ffffff;font-weight:normal;transform:scaleX(0.8698);-webkit-text-stroke:1.0px #ffffff">210</div><div class="t" style="left:190.0px;top:702.0px;font-size:29.04px;color:#ffffff;font-weight:bold;transform:scaleX(0.8679);-webkit-text-stroke:0.4px #ffffff"><i>광</i><i>주</i></div><div class="t" style="left:290.0px;top:671.0px;font-size:18.92px;color:#555555;font-weight:normal;transform:scaleX(0.977);-webkit-text-stroke:0px #555555">(2)</div><div class="t" style="left:411.4px;top:812.8px;font-size:34.92px;color:#ffffff;font-weight:normal;transform:scaleX(0.8823);-webkit-text-stroke:1.0px #ffffff">166</div><div class="t" style="left:412.4px;top:847.8px;font-size:29.98px;color:#ffffff;font-weight:bold;transform:scaleX(0.8238);-webkit-text-stroke:0.4px #ffffff"><i>경</i><i>남</i></div><div class="t" style="left:509.4px;top:776.0px;font-size:38.67px;color:#ffffff;font-weight:normal;transform:scaleX(0.8773);-webkit-text-stroke:1.0px #ffffff">178</div><div class="t" style="left:512.7px;top:817.0px;font-size:27.88px;color:#ffffff;font-weight:bold;transform:scaleX(0.9282);-webkit-text-stroke:0.4px #ffffff"><i>부</i><i>산</i></div><div class="t" style="left:513.9px;top:872.7px;font-size:23.74px;color:#c1272d;font-weight:normal;transform:scaleX(1.1613);-webkit-text-stroke:0px #c1272d">(+1)</div><div class="t" style="left:611.8px;top:815.8px;font-size:21.33px;color:#555555;font-weight:normal;transform:scaleX(0.933);-webkit-text-stroke:0px #555555">(3)</div><div class="t" style="left:787.2px;top:451.2px;font-size:72.45px;color:#dc7d83;font-weight:normal;transform:scaleX(0.8374);-webkit-text-stroke:1.2px #dc7d83">8356</div><div class="t" style="left:748.0px;top:531.0px;font-size:50.51px;color:#ffffff;font-weight:normal;transform:scaleX(0.8354);-webkit-text-stroke:1.0px #ffffff">6945</div><div class="t" style="left:866.2px;top:531.0px;font-size:50.51px;color:#ffffff;font-weight:normal;transform:scaleX(0.8056);-webkit-text-stroke:1.0px #ffffff">1411</div><div class="t" style="left:960.0px;top:546.2px;font-size:28.94px;color:#ffffff;font-weight:normal;transform:scaleX(1.0246);-webkit-text-stroke:0px #ffffff">(+1)</div><div class="t" style="left:766.8px;top:587.2px;font-size:33.11px;color:#ffffff;font-weight:bold;transform:scaleX(0.8733);-webkit-text-stroke:0.4px #ffffff"><i>대</i><i>구</i></div><div class="t" style="left:886.9px;top:587.2px;font-size:32.0px;color:#ffffff;font-weight:bold;transform:scaleX(0.9212);-webkit-text-stroke:0.4px #ffffff"><i>경</i><i>북</i></div><div class="t" style="left:781.7px;top:639.8px;font-size:22.23px;color:#2a1416;font-weight:normal;transform:scaleX(0.919);-webkit-text-stroke:0px #2a1416">(191)</div><div class="t" style="left:905.5px;top:639.8px;font-size:22.23px;color:#2a1416;font-weight:normal;transform:scaleX(0.9324);-webkit-text-stroke:0px #2a1416">(54)</div><div class="t" style="left:251.2px;top:432.1px;font-size:26.39px;color:#c1272d;font-weight:normal;transform:scaleX(1.0089);-webkit-text-stroke:0.6px #c1272d"><i>충</i><i>북</i> 82</div><div class="t" style="left:571.7px;top:381.7px;font-size:30.16px;color:#c1272d;font-weight:normal;transform:scaleX(0.9219);-webkit-text-stroke:0.6px #c1272d"><i>강</i><i>원</i>77</div><div class="t" style="left:688.6px;top:384.5px;font-size:21.6px;color:#555555;font-weight:normal;transform:scaleX(0.926);-webkit-text-stroke:0px #555555">(3)</div><div class="t" style="left:210.8px;top:502.0px;font-size:28.93px;color:#c1272d;font-weight:normal;transform:scaleX(0.9205);-webkit-text-stroke:0.6px #c1272d"><i>세</i><i>종</i>50</div><div class="t" style="left:69.8px;top:630.6px;font-size:26.23px;color:#c1272d;font-weight:normal;transform:scaleX(1.0689);-webkit-text-stroke:0.6px #c1272d"><i>전</i><i>북</i>39</div><div class="t" style="left:31.4px;top:755.3px;font-size:25.04px;color:#c1272d;font-weight:normal;transform:scaleX(1.0802);-webkit-text-stroke:0px #c1272d">(+1)</div><div class="t" style="left:86.6px;top:752.5px;font-size:30.0px;color:#c1272d;font-weight:normal;transform:scaleX(0.9405);-webkit-text-stroke:0.6px #c1272d"><i>전</i><i>남</i>42</div><div class="t" style="left:147.5px;top:861.7px;font-size:29.88px;color:#c1272d;font-weight:normal;transform:scaleX(0.9);-webkit-text-stroke:0.6px #c1272d"><i>제</i><i>주</i>26</div><div class="t" style="left:557.0px;top:710.7px;font-size:30.0px;color:#c1272d;font-weight:normal;transform:scaleX(0.9074);-webkit-text-stroke:0.6px #c1272d"><i>울</i><i>산</i>60</div><div class="t" style="left:672.0px;top:710.0px;font-size:27.08px;color:#555555;font-weight:normal;transform:scaleX(0.7456);-webkit-text-stroke:0px #555555">(1)</div><div class="t" style="left:22.4px;top:937.0px;font-size:25.87px;color:#8a8a8a;font-weight:normal;transform:scaleX(0.7832);-webkit-text-stroke:0.2px #8a8a8a"><i>※</i> <i>상</i><i>기</i> <i>통</i><i>계</i><i>는</i> <i>모</i><i>두</i> <i>추</i><i>후</i> <i>역</i><i>학</i><i>조</i><i>사</i> <i>과</i><i>정</i><i>에</i><i>서</i> <i>변</i><i>경</i><i>될</i> <i>수</i> <i>있</i><i>음</i>.</div><div class="t" style="left:585.0px;top:937.0px;font-size:22.68px;color:#707070;font-weight:bold;transform:scaleX(0.9056);-webkit-text-stroke:0.3px #707070"><i>자</i><i>료</i></div><div class="t" style="left:635.7px;top:936.0px;font-size:25.42px;color:#8a8a8a;font-weight:normal;transform:scaleX(0.8139);-webkit-text-stroke:0.2px #8a8a8a"><i>질</i><i>병</i><i>관</i><i>리</i><i>본</i><i>부</i></div>
</body></html>
